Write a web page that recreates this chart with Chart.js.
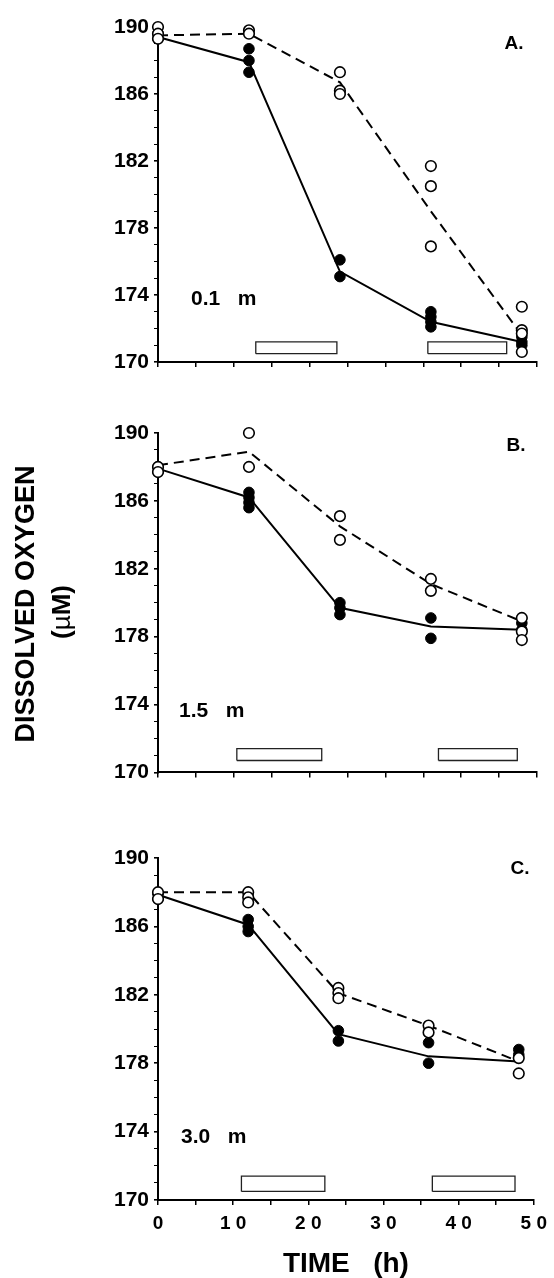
<!DOCTYPE html>
<html>
<head>
<meta charset="utf-8">
<script src="https://cdn.jsdelivr.net/npm/chart.js@4"></script>
<style>
  html, body { margin: 0; padding: 0; background: #fff; }
  #wrap { position: relative; width: 554px; height: 1278px; overflow: hidden;
          font-family: "Liberation Sans", Arial, sans-serif; font-weight: bold; color: #000; }
  .panel { position: absolute; left: 0; width: 554px; }
  .lbl { position: absolute; white-space: pre; line-height: 1; }
</style>
</head>
<body>
<div id="wrap">
  <div class="panel" style="top:0px;height:380px"><canvas id="chartA" width="554" height="380"></canvas></div>
  <div class="panel" style="top:400px;height:390px"><canvas id="chartB" width="554" height="390"></canvas></div>
  <div class="panel" style="top:830px;height:448px"><canvas id="chartC" width="554" height="448"></canvas></div>

  <div class="lbl" style="left:514px;top:42px;font-size:19px;transform:translate(-50%,-50%)">A.</div>
  <div class="lbl" style="left:516px;top:444px;font-size:19px;transform:translate(-50%,-50%)">B.</div>
  <div class="lbl" style="left:520px;top:867px;font-size:19px;transform:translate(-50%,-50%)">C.</div>

  <div class="lbl" style="left:191px;top:297px;font-size:21px;transform:translateY(-50%)">0.1   m</div>
  <div class="lbl" style="left:179px;top:709px;font-size:21px;transform:translateY(-50%)">1.5   m</div>
  <div class="lbl" style="left:181px;top:1135px;font-size:21px;transform:translateY(-50%)">3.0   m</div>

  <div class="lbl" style="left:25px;top:604px;font-size:27px;transform:translate(-50%,-50%) rotate(-90deg)">DISSOLVED OXYGEN</div>
  <div class="lbl" style="left:61px;top:612px;font-size:26px;transform:translate(-50%,-50%) rotate(-90deg)">(<span style="font-weight:normal">µ</span>M)</div>
</div>

<script>
// sampling times (h)
const hours = [0, 12, 24, 36, 48];

// Panel A, 0.1 m  (replicates per time point)
const aFilled = [[189.6, 189.3], [188.7, 188.0, 187.3], [176.1, 175.1], [173.0, 172.7, 172.4, 172.1], [171.5, 171.2, 171.0]];
const aOpen   = [[190.0, 189.6, 189.3], [189.8, 189.6], [187.3, 186.2, 186.0], [181.7, 180.5, 176.9], [173.3, 171.9, 171.7, 170.6]];
const aSolid  = [189.4, 187.9, 175.4, 172.4, 171.2];
const aDashed = [189.5, 189.6, 186.7, 179.0, 171.6];
const aDark   = [[12.9, 23.6], [35.6, 46.0]];

// Panel B, 1.5 m
const bFilled = [[188.0, 187.7], [186.5, 186.2, 185.9, 185.6], [180.0, 179.7, 179.3], [179.1, 177.9], [178.8, 178.4]];
const bOpen   = [[188.0, 187.7], [190.0, 188.0], [185.1, 183.7], [181.4, 180.7], [179.1, 178.3, 177.8]];
const bSolid  = [187.9, 186.2, 179.7, 178.6, 178.4];
const bDashed = [188.1, 188.9, 184.5, 181.1, 178.9];
const bDark   = [[10.4, 21.6], [37.0, 47.4]];

// Panel C, 3.0 m
const cFilled = [[187.9, 187.6], [186.4, 186.0, 185.7], [179.9, 179.3], [179.2, 178.0], [178.8, 178.5]];
const cOpen   = [[188.0, 187.6], [188.0, 187.7, 187.4], [182.4, 182.1, 181.8], [180.2, 179.8], [178.3, 177.4]];
const cSolid  = [187.85, 186.1, 179.7, 178.4, 178.1];
const cDashed = [188.0, 188.0, 182.1, 180.2, 178.1];
const cDark   = [[11.1, 22.2], [36.5, 47.5]];

const FONT = '"Liberation Sans", Arial, sans-serif';

function toPoints(reps) {
  const pts = [];
  reps.forEach((vals, i) => vals.forEach(v => pts.push({ x: hours[i], y: v })));
  return pts;
}

function toLine(means) {
  return means.map((v, i) => ({ x: hours[i], y: v }));
}

function toRect(span, lo, hi) {
  return [
    { x: span[0], y: lo }, { x: span[1], y: lo },
    { x: span[1], y: hi }, { x: span[0], y: hi }, { x: span[0], y: lo }
  ];
}

function makePanel(id, p) {
  const ctx = document.getElementById(id).getContext('2d');
  const canvasH = ctx.canvas.height;

  const rects = p.dark.map(span => ({
    data: toRect(span, p.barLo, p.barHi),
    showLine: true,
    borderColor: '#222',
    borderWidth: 1.3,
    pointRadius: 0,
    fill: false,
    tension: 0,
    order: 5
  }));

  new Chart(ctx, {
    type: 'scatter',
    data: {
      datasets: [
        ...rects,
        {
          data: toLine(p.solid), showLine: true, borderColor: '#000', borderWidth: 2,
          pointRadius: 0, tension: 0, order: 4, clip: false
        },
        {
          data: toLine(p.dashed), showLine: true, borderColor: '#000', borderWidth: 2,
          borderDash: [10, 6], pointRadius: 0, tension: 0, order: 3, clip: false
        },
        {
          data: toPoints(p.filled), pointRadius: 5.3, pointBackgroundColor: '#000',
          pointBorderColor: '#000', pointBorderWidth: 1, order: 2, clip: false
        },
        {
          data: toPoints(p.open), pointRadius: 5.3, pointBackgroundColor: '#fff',
          pointBorderColor: '#000', pointBorderWidth: 1.6, order: 1, clip: false
        }
      ]
    },
    options: {
      responsive: false,
      animation: false,
      layout: { padding: { top: p.top, right: 17, left: 0, bottom: 0 } },
      plugins: { legend: { display: false }, tooltip: { enabled: false } },
      scales: {
        x: {
          type: 'linear',
          min: 0,
          max: 50,
          afterFit: s => { s.height = canvasH - p.bottom; },
          border: { display: true, color: '#000', width: 2 },
          grid: { drawOnChartArea: false, drawTicks: true, tickLength: 5, color: '#000', lineWidth: 1.5 },
          ticks: {
            display: p.showTime,
            stepSize: 5,
            autoSkip: false,
            maxRotation: 0,
            padding: 7,
            color: '#000',
            font: { family: FONT, size: 19, weight: 'bold' },
            callback: v => (v % 10 === 0 ? String(v).split('').join(' ') : '')
          },
          title: {
            display: p.showTime,
            text: 'TIME   (h)',
            color: '#000',
            padding: { top: 0, bottom: 0 },
            font: { family: FONT, size: 28, weight: 'bold', lineHeight: 1 }
          }
        },
        y: {
          min: 170,
          max: 190,
          afterFit: s => { s.width = 158; },
          border: { display: true, color: '#000', width: 2 },
          grid: { drawOnChartArea: false, drawTicks: true, tickLength: 4, color: '#000',
                  lineWidth: c => ((c.tick && (c.tick.value - 170) % 4 === 0) ? 1.6 : 1) },
          ticks: {
            stepSize: 1,
            autoSkip: false,
            padding: 5,
            color: '#000',
            font: { family: FONT, size: 21, weight: 'bold' },
            callback: v => ((v - 170) % 4 === 0 ? String(v) : '')
          }
        }
      }
    }
  });
}

makePanel('chartA', { filled: aFilled, open: aOpen, solid: aSolid, dashed: aDashed, dark: aDark,
  barLo: 170.5, barHi: 171.2, top: 27, bottom: 362, showTime: false });
makePanel('chartB', { filled: bFilled, open: bOpen, solid: bSolid, dashed: bDashed, dark: bDark,
  barLo: 170.7, barHi: 171.4, top: 33, bottom: 373, showTime: false });
makePanel('chartC', { filled: cFilled, open: cOpen, solid: cSolid, dashed: cDashed, dark: cDark,
  barLo: 170.5, barHi: 171.4, top: 28, bottom: 370, showTime: true });
</script>
</body>
</html>
